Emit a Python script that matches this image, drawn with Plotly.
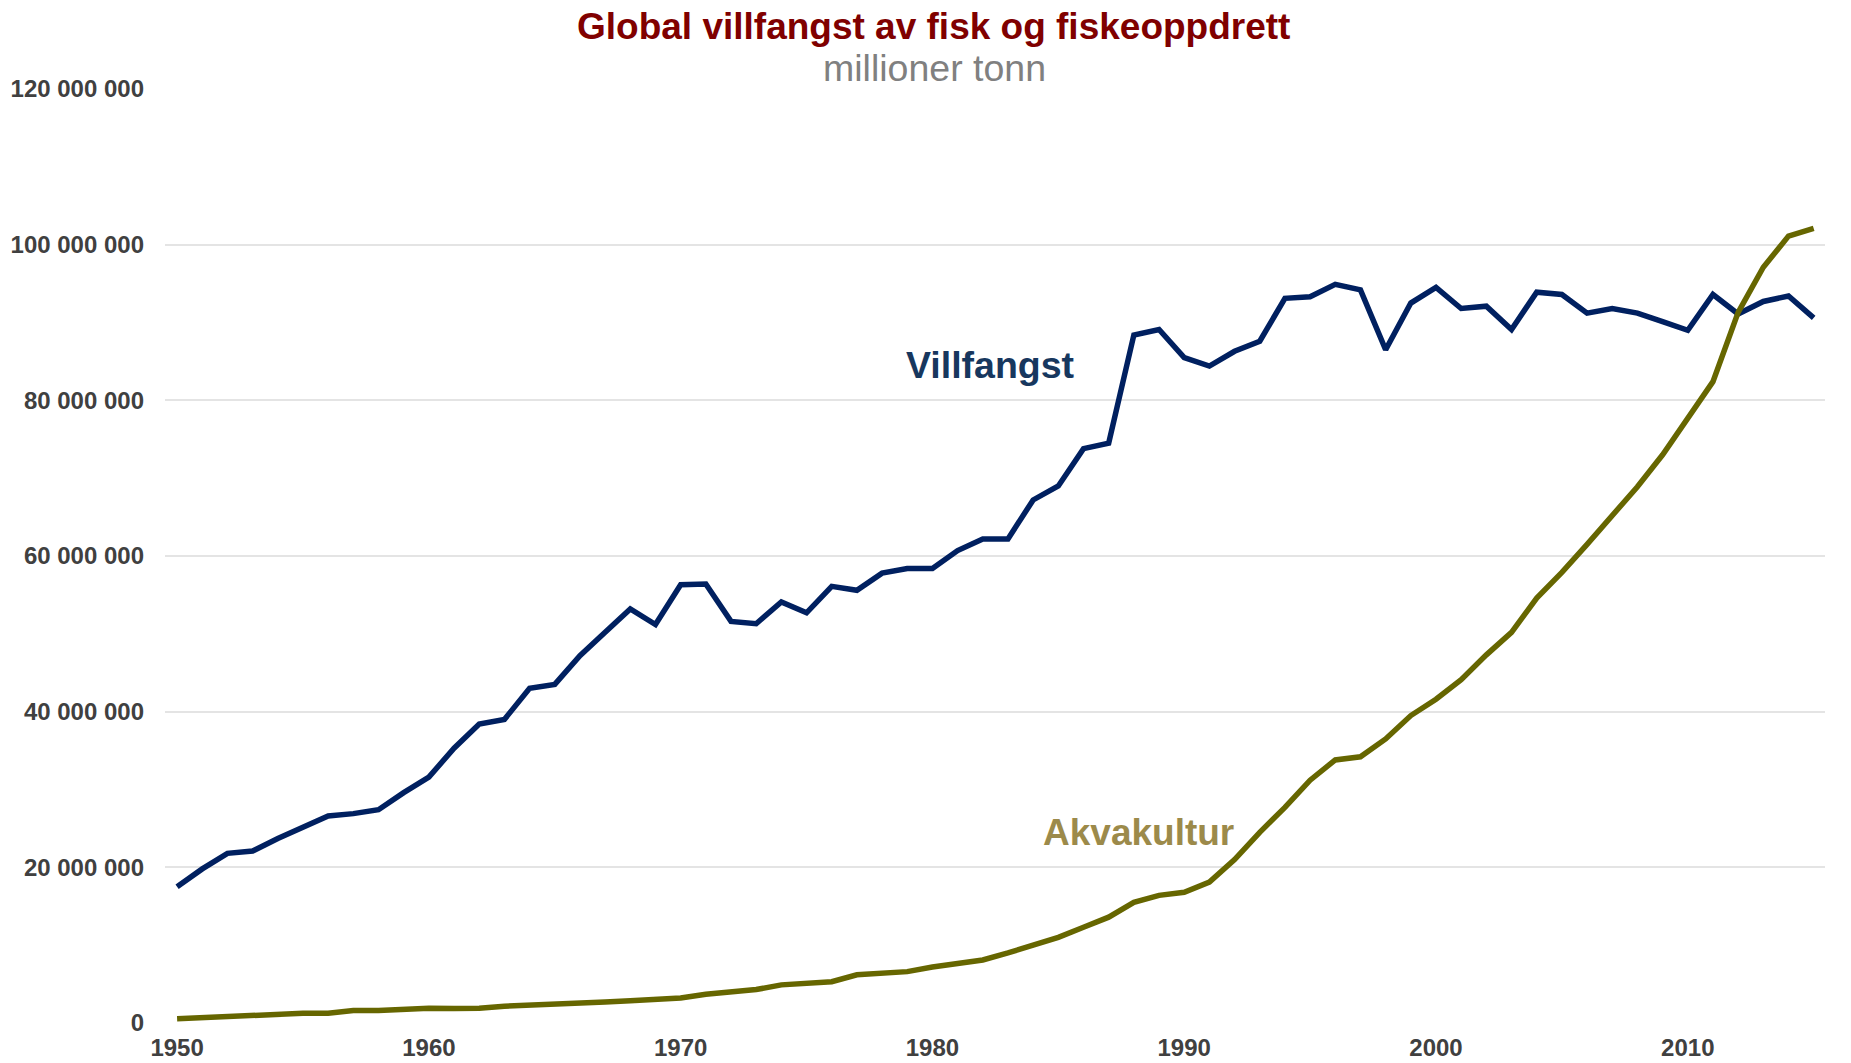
import plotly.graph_objs as go

years = list(range(1950, 2016))

# Villfangst (millioner tonn), lest av grafen
villfangst_mill = [
    17.5, 19.8, 21.8, 22.1, 23.7, 25.1, 26.6, 26.9, 27.4, 29.6,
    31.6, 35.3, 38.4, 39.0, 43.0, 43.5, 47.2, 50.2, 53.2, 51.2,
    56.3, 56.4, 51.6, 51.3, 54.1, 52.7, 56.1, 55.6, 57.8, 58.4,
    58.4, 60.7, 62.2, 62.2, 67.2, 69.0, 73.8, 74.5, 88.4, 89.1,
    85.5, 84.4, 86.3, 87.6, 93.1, 93.3, 94.9, 94.2, 86.5, 92.5,
    94.5, 91.8, 92.1, 89.1, 93.9, 93.6, 91.2, 91.8, 91.2, 90.1,
    89.0, 93.6, 91.1, 92.7, 93.4, 90.6,
]

# Akvakultur (millioner tonn), lest av grafen
akvakultur_mill = [
    0.55, 0.7, 0.85, 0.95, 1.1, 1.25, 1.25, 1.6, 1.6, 1.8,
    1.9, 1.85, 1.9, 2.15, 2.25, 2.4, 2.6, 2.7, 2.85, 3.0,
    3.2, 3.7, 4.05, 4.3, 4.9, 5.1, 5.3, 6.2, 6.4, 6.6,
    7.2, 7.6, 8.1, 9.0, 10.0, 11.0, 12.3, 13.6, 15.5, 16.4,
    16.8, 18.1, 21.0, 24.5, 27.7, 31.2, 33.8, 34.2, 36.5, 39.5,
    41.6, 44.1, 47.3, 50.2, 54.6, 57.9, 61.5, 65.1, 68.9, 73.0,
    77.6, 82.4, 91.3, 97.1, 101.1, 102.1,
]

villfangst = [v * 1e6 for v in villfangst_mill]
akvakultur = [v * 1e6 for v in akvakultur_mill]

y_ticks = [0, 20e6, 40e6, 60e6, 80e6, 100e6, 120e6]
y_tick_text = ["0", "20 000 000", "40 000 000", "60 000 000", "80 000 000", "100 000 000", "120 000 000"]
x_ticks = [1950, 1960, 1970, 1980, 1990, 2000, 2010]

FONT = "Liberation Sans, Arial, sans-serif"

fig = go.Figure()
fig.add_trace(go.Scatter(x=years, y=villfangst, mode='lines', name='Villfangst',
                         line=dict(color='#002060', width=5.5)))
fig.add_trace(go.Scatter(x=years, y=akvakultur, mode='lines', name='Akvakultur',
                         line=dict(color='#666600', width=5.5)))

fig.add_annotation(x=1982.3, y=84.5e6, text="<b>Villfangst</b>", showarrow=False,
                   font=dict(family=FONT, size=37.5, color='#17375E'))
fig.add_annotation(x=1988.2, y=24.5e6, text="<b>Akvakultur</b>", showarrow=False,
                   font=dict(family=FONT, size=37, color='#9C8A4A'))

# tittel og undertittel
fig.add_annotation(xref='paper', yref='paper', x=0.5, y=1, xanchor='center', yanchor='middle',
                   xshift=-62, yshift=63, showarrow=False,
                   text="<b>Global villfangst av fisk og fiskeoppdrett</b>",
                   font=dict(family=FONT, size=37, color='#800000'))
fig.add_annotation(xref='paper', yref='paper', x=0.5, y=1, xanchor='center', yanchor='middle',
                   xshift=-61, yshift=21, showarrow=False,
                   text="millioner tonn",
                   font=dict(family=FONT, size=37.5, color='#808080'))

fig.update_layout(
    width=1851, height=1063,
    margin=dict(l=165, r=26, t=89, b=40),
    plot_bgcolor='white', paper_bgcolor='white',
    showlegend=False,
    font=dict(family=FONT),
    xaxis=dict(range=[1949.52, 2015.45], tickvals=x_ticks, showgrid=False, zeroline=False,
               showline=False, ticks='', automargin=False, ticklabelstandoff=8,
               tickfont=dict(family=FONT, size=24, color='#404040', weight='bold')),
    yaxis=dict(range=[0, 120e6], tickvals=y_ticks, ticktext=y_tick_text,
               showgrid=True, gridcolor='#e4e4e4', gridwidth=1.5, zeroline=False,
               showline=False, ticks='', automargin=False, ticklabelstandoff=20,
               tickfont=dict(family=FONT, size=24, color='#404040', weight='bold')),
)

# siden har 8px marg som standard, fjern den så figuren fyller vinduet
fig.write_html("out.html", config={'displayModeBar': False},
               post_script="document.body.style.margin='0';")
